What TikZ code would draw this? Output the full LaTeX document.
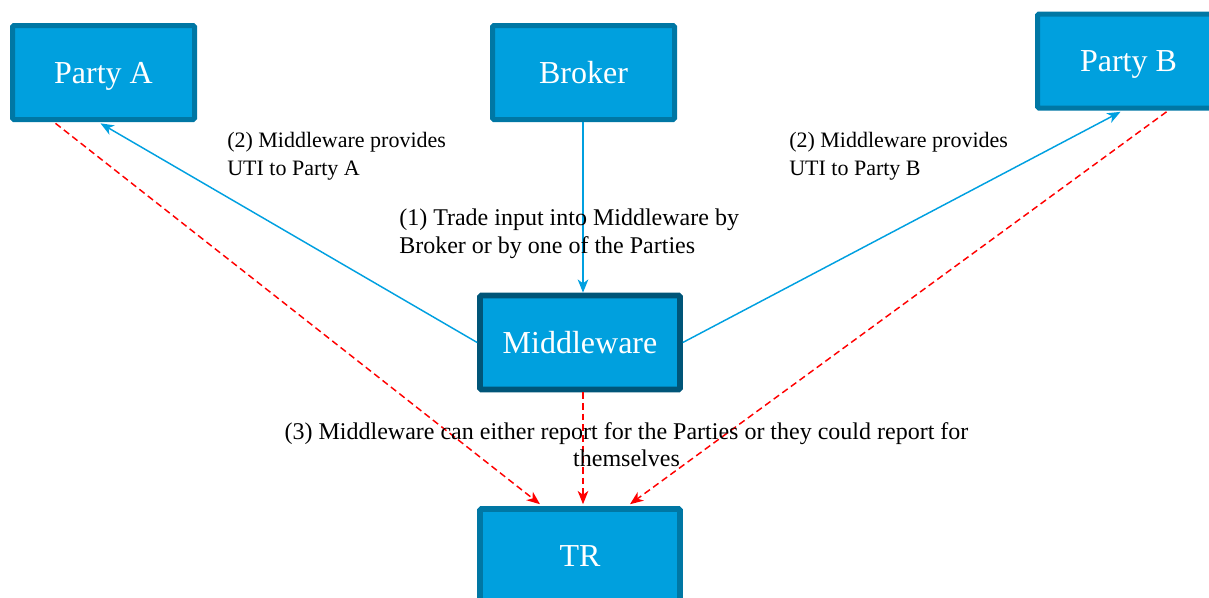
\documentclass[tikz,border=0pt]{standalone}
\usepackage{fontspec}
\setmainfont{Liberation Serif}
\usetikzlibrary{arrows.meta}
\definecolor{boxfill}{HTML}{00A0DE}
\definecolor{boxline}{HTML}{0077A4}
\definecolor{midline}{HTML}{005578}
\definecolor{arrowcyan}{HTML}{00A0E0}
\begin{document}
\begin{tikzpicture}[x=0.75pt,y=-0.75pt,
  entity/.style={draw=boxline, fill=boxfill, line width=3.75pt, minimum width=136.5pt, minimum height=70.5pt, inner sep=0pt, text=white, font=\fontsize{24}{28}\selectfont, text height=16pt, text depth=0pt, rounded corners=1pt},
  midbox/.style={entity, draw=midline, line width=4.2pt, minimum width=150pt},
  flow/.style={draw=arrowcyan, line width=1.1pt, -{Stealth[length=10pt,width=8pt,inset=3pt]}},
  report/.style={draw=red, line width=1.1pt, dash pattern=on 5pt off 3pt, -{Stealth[length=10pt,width=8pt,inset=3pt]}},
  note/.style={font=\fontsize{16.5}{21}\selectfont, align=left, inner sep=0pt, anchor=north west}
]
\useasboundingbox (0,0) rectangle (1209,597);
\node[entity] (pa) at (103.5,72.5) {Party A};
\node[entity] (br) at (583.5,72.5) {Broker};
\node[entity] (pb) at (1128.5,61) {Party B};
\node[midbox] (mw) at (580,342.5) {Middleware};
\node[midbox, draw=boxline] (tr) at (580,556) {TR};

\draw[flow] (br.south -| 583,0) -- (mw.north -| 583,0);
\draw[flow] (mw.west) -- ([xshift=-2.25pt,yshift=-1pt]pa.south);
\draw[flow] (mw.east) -- ([xshift=-6pt,yshift=-1pt]pb.south);

\draw[report] ([xshift=-36pt,yshift=-1pt]pa.south) -- ([xshift=-30pt,yshift=1.5pt]tr.north);
\draw[report] (mw.south -| 583,0) -- ([xshift=2.25pt,yshift=1.5pt]tr.north);
\draw[report] ([xshift=28.5pt,yshift=-1pt]pb.south) -- ([xshift=37.5pt,yshift=1.5pt]tr.north);

\node[note] (n2a) at (227,132) {(2) Middleware provides\\UTI to Party A};
\node[note] (n2b) at (789,132) {(2) Middleware provides\\UTI to Party B};
\node[note, font=\fontsize{18}{21}\selectfont] (n1) at (399,209) {(1) Trade input into Middleware by\\Broker or by one of the Parties};
\node[font=\fontsize{18}{20.5}\selectfont, align=center, inner sep=0pt, anchor=north] (n3) at (626.5,422) {(3) Middleware can either report for the Parties or they could report for\\themselves};
\end{tikzpicture}
\end{document}
